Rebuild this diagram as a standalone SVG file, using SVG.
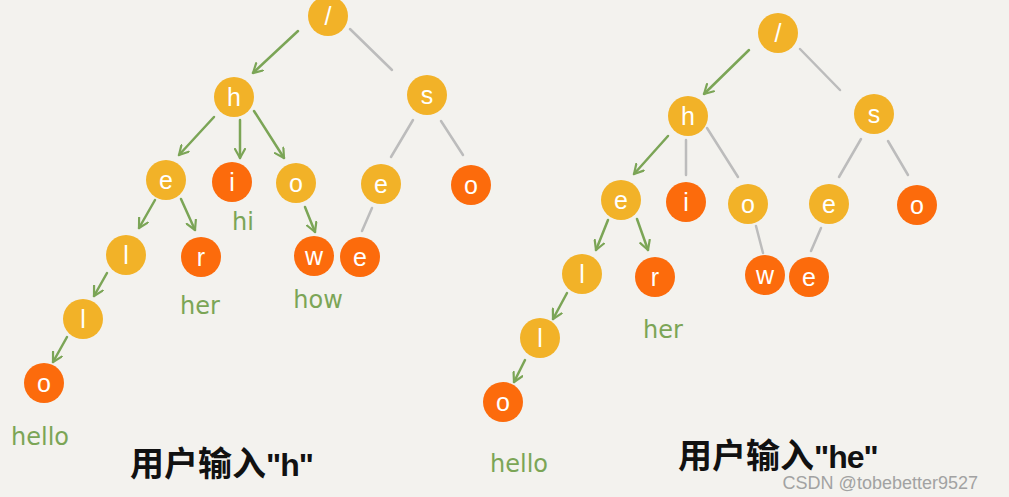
<svg xmlns="http://www.w3.org/2000/svg" width="1009" height="497" viewBox="0 0 1009 497">
<defs>
<style>
.y{fill:#f2b228}
.r{fill:#fc6b0c}
.t{fill:#fff;font-family:"Liberation Sans",sans-serif;font-size:25px;text-anchor:middle;dominant-baseline:central}
.g{stroke:#7ba556;stroke-width:2.5;fill:none;stroke-linecap:round;marker-end:url(#ah)}
.n{stroke:#bcbcbc;stroke-width:2.5;fill:none;stroke-linecap:round}
.lb{fill:#7ba556;font-family:"DejaVu Sans",sans-serif;font-size:24px;text-anchor:middle}
.cap{fill:#111;font-family:"Noto Sans CJK SC","Liberation Sans",sans-serif;font-size:34px;font-weight:bold}
.q{font-family:"Liberation Sans",sans-serif;font-size:32px;letter-spacing:-1px}
</style>
<marker id="ah" viewBox="0 0 12 12" refX="10" refY="6" markerWidth="12" markerHeight="12" markerUnits="userSpaceOnUse" orient="auto">
<path d="M1,1 L10,6 L1,11" fill="none" stroke="#7ba556" stroke-width="2.2" stroke-linecap="round" stroke-linejoin="round"/>
</marker>
</defs>
<rect width="1009" height="497" fill="#f3f2ee"/>
<g id="connectors">
<line class="g" x1="298" y1="31" x2="253" y2="73"/>
<line class="n" x1="350" y1="29" x2="392" y2="70"/>
<line class="g" x1="214" y1="117" x2="179" y2="155"/>
<line class="g" x1="240" y1="120" x2="240" y2="158"/>
<line class="g" x1="254" y1="111" x2="284" y2="158"/>
<line class="n" x1="413" y1="120" x2="391" y2="157"/>
<line class="n" x1="441" y1="121" x2="463" y2="155"/>
<line class="g" x1="155" y1="200" x2="139" y2="228"/>
<line class="g" x1="181" y1="199" x2="195" y2="230"/>
<line class="g" x1="305" y1="207" x2="315" y2="232"/>
<line class="n" x1="372" y1="208" x2="362" y2="231"/>
<line class="g" x1="107" y1="273" x2="94" y2="296"/>
<line class="g" x1="67" y1="337" x2="53" y2="362"/>
<line class="g" x1="749" y1="50" x2="704" y2="94"/>
<line class="n" x1="800" y1="49" x2="840" y2="90"/>
<line class="g" x1="668" y1="136" x2="634" y2="174"/>
<line class="n" x1="686" y1="140" x2="686" y2="175"/>
<line class="n" x1="707" y1="128" x2="738" y2="177"/>
<line class="n" x1="861" y1="139" x2="839" y2="177"/>
<line class="n" x1="888" y1="141" x2="908" y2="175"/>
<line class="g" x1="608" y1="220" x2="596" y2="250"/>
<line class="g" x1="637" y1="219" x2="648" y2="250"/>
<line class="n" x1="756" y1="226" x2="763" y2="253"/>
<line class="n" x1="821" y1="228" x2="811" y2="251"/>
<line class="g" x1="567" y1="293" x2="553" y2="319"/>
<line class="g" x1="525" y1="360" x2="514" y2="382"/>
</g>
<g id="L-root"><circle class="y" cx="328" cy="16" r="20"/><text class="t" x="328" y="16">/</text></g>
<g id="L-h"><circle class="y" cx="234" cy="97" r="20"/><text class="t" x="234" y="97">h</text></g>
<g id="L-s"><circle class="y" cx="427" cy="95" r="20"/><text class="t" x="427" y="95">s</text></g>
<g id="L-he"><circle class="y" cx="166" cy="180" r="20"/><text class="t" x="166" y="180">e</text></g>
<g id="L-hi"><circle class="r" cx="232" cy="182" r="20"/><text class="t" x="232" y="182">i</text></g>
<g id="L-ho"><circle class="y" cx="296" cy="183" r="20"/><text class="t" x="296" y="183">o</text></g>
<g id="L-se"><circle class="y" cx="381" cy="184" r="20"/><text class="t" x="381" y="184">e</text></g>
<g id="L-so"><circle class="r" cx="471" cy="185" r="20"/><text class="t" x="471" y="185">o</text></g>
<g id="L-hel"><circle class="y" cx="126" cy="255" r="20"/><text class="t" x="126" y="255">l</text></g>
<g id="L-her"><circle class="r" cx="201" cy="257" r="20"/><text class="t" x="201" y="257">r</text></g>
<g id="L-how"><circle class="r" cx="314" cy="256" r="20"/><text class="t" x="314" y="256">w</text></g>
<g id="L-see"><circle class="r" cx="360" cy="257" r="20"/><text class="t" x="360" y="257">e</text></g>
<g id="L-hell"><circle class="y" cx="83" cy="319" r="20"/><text class="t" x="83" y="319">l</text></g>
<g id="L-hello"><circle class="r" cx="44" cy="383" r="20"/><text class="t" x="44" y="383">o</text></g>
<g id="R-root"><circle class="y" cx="778" cy="33" r="20"/><text class="t" x="778" y="33">/</text></g>
<g id="R-h"><circle class="y" cx="688" cy="116" r="20"/><text class="t" x="688" y="116">h</text></g>
<g id="R-s"><circle class="y" cx="874" cy="114" r="20"/><text class="t" x="874" y="114">s</text></g>
<g id="R-he"><circle class="y" cx="621" cy="200" r="20"/><text class="t" x="621" y="200">e</text></g>
<g id="R-hi"><circle class="r" cx="686" cy="202" r="20"/><text class="t" x="686" y="202">i</text></g>
<g id="R-ho"><circle class="y" cx="748" cy="204" r="20"/><text class="t" x="748" y="204">o</text></g>
<g id="R-se"><circle class="y" cx="829" cy="204" r="20"/><text class="t" x="829" y="204">e</text></g>
<g id="R-so"><circle class="r" cx="917" cy="205" r="20"/><text class="t" x="917" y="205">o</text></g>
<g id="R-hel"><circle class="y" cx="582" cy="274" r="20"/><text class="t" x="582" y="274">l</text></g>
<g id="R-her"><circle class="r" cx="655" cy="277" r="20"/><text class="t" x="655" y="277">r</text></g>
<g id="R-how"><circle class="r" cx="765" cy="275" r="20"/><text class="t" x="765" y="275">w</text></g>
<g id="R-see"><circle class="r" cx="809" cy="277" r="20"/><text class="t" x="809" y="277">e</text></g>
<g id="R-hell"><circle class="y" cx="540" cy="338" r="20"/><text class="t" x="540" y="338">l</text></g>
<g id="R-hello"><circle class="r" cx="503" cy="402" r="20"/><text class="t" x="503" y="402">o</text></g>
<g id="labels">
<text class="lb" x="243" y="230">hi</text>
<text class="lb" x="200" y="314">her</text>
<text class="lb" x="318" y="308">how</text>
<text class="lb" x="40" y="445">hello</text>
<text class="lb" x="663" y="338">her</text>
<text class="lb" x="519" y="472">hello</text>
<text class="cap" x="130" y="476">用户输入<tspan class="q">"h"</tspan></text>
<text class="cap" x="678" y="468">用户输入<tspan class="q">"he"</tspan></text>
<text x="978" y="489" text-anchor="end" fill="#a2a2a2" font-family="Liberation Sans,sans-serif" font-size="18">CSDN @tobebetter9527</text>
</g>
</svg>
